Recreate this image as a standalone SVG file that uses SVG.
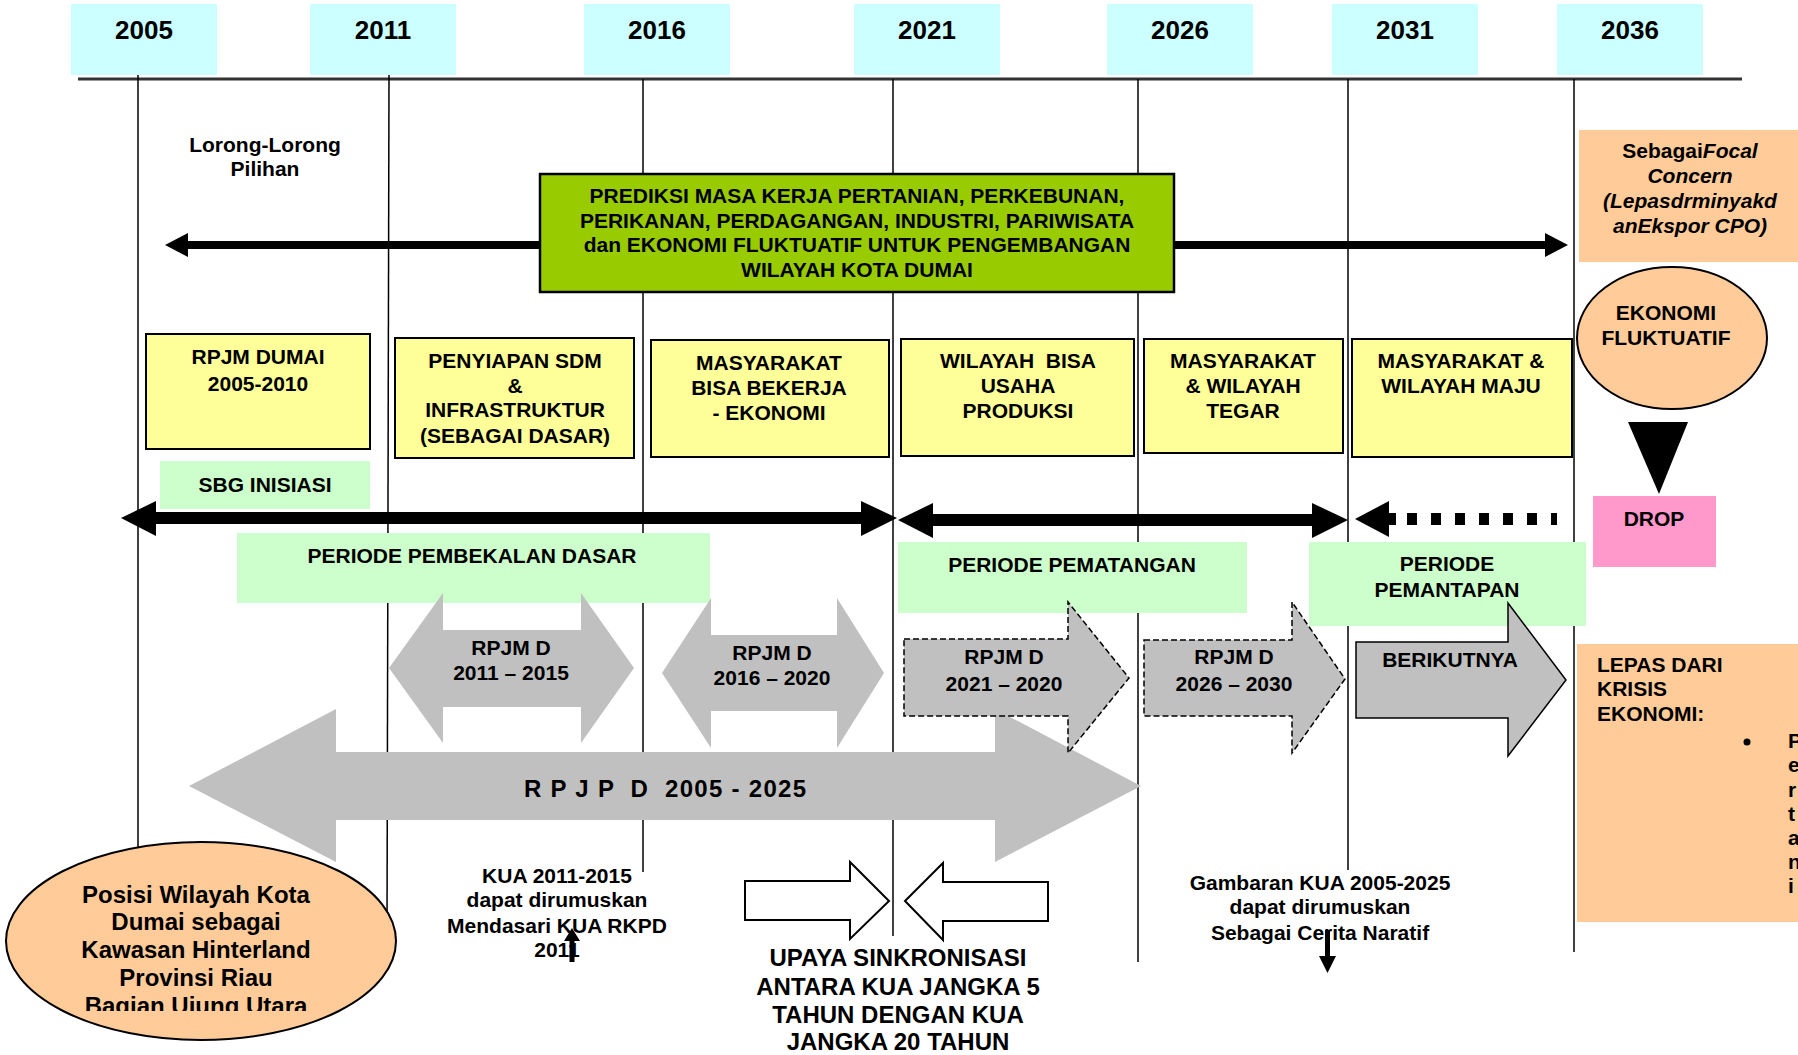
<svg xmlns="http://www.w3.org/2000/svg" width="1798" height="1055" viewBox="0 0 1798 1055">
<style>
text{font-family:"Liberation Sans",Arial,sans-serif;font-weight:bold;fill:#000;text-anchor:middle;font-size:21px}
.yr{font-size:26px}
.big{font-size:24px}
.hdr{fill:#CCFFFF}
.vl{stroke:#000;stroke-width:1.5;fill:none}
.yel{fill:#FFFF99;stroke:#000;stroke-width:2}
.lg{fill:#CCFFCC}
.org{fill:#FFCC99}
.gray{fill:#C0C0C0}
.dash{fill:#C0C0C0;stroke:#000;stroke-width:1.5;stroke-dasharray:6 3}
.blk{fill:#000}
.wa{fill:#fff;stroke:#000;stroke-width:2}
.it{font-style:italic}
.st{text-anchor:start}
</style>
<defs>
<clipPath id="clipPosisi"><rect x="0" y="840" width="420" height="171"/></clipPath>
</defs>
<rect width="1798" height="1055" fill="#fff"/>

<g id="headers">
<rect class="hdr" x="71" y="4" width="146" height="71"/>
<rect class="hdr" x="310" y="4" width="146" height="71"/>
<rect class="hdr" x="584" y="4" width="146" height="71"/>
<rect class="hdr" x="854" y="4" width="146" height="71"/>
<rect class="hdr" x="1107" y="4" width="146" height="71"/>
<rect class="hdr" x="1332" y="4" width="146" height="71"/>
<rect class="hdr" x="1557" y="4" width="146" height="71"/>
<text class="yr" x="144" y="39">2005</text>
<text class="yr" x="383" y="39">2011</text>
<text class="yr" x="657" y="39">2016</text>
<text class="yr" x="927" y="39">2021</text>
<text class="yr" x="1180" y="39">2026</text>
<text class="yr" x="1405" y="39">2031</text>
<text class="yr" x="1630" y="39">2036</text>
</g>

<g id="timeline">
<line x1="78" y1="79" x2="1742" y2="79" stroke="#333" stroke-width="3"/>
<line class="vl" x1="138" y1="75" x2="138" y2="850"/>
<line class="vl" x1="389" y1="75" x2="387" y2="930"/>
<line class="vl" x1="643" y1="79" x2="643" y2="872"/>
<line class="vl" x1="893" y1="79" x2="893" y2="936"/>
<line class="vl" x1="1138" y1="79" x2="1138" y2="962"/>
<line class="vl" x1="1348" y1="79" x2="1348" y2="870"/>
<line class="vl" x1="1574" y1="79" x2="1574" y2="952"/>
</g>

<g id="lorong">
<text x="265" y="152">Lorong-Lorong</text>
<text x="265" y="176">Pilihan</text>
</g>

<g id="connectors">
<polygon class="blk" points="165,245 188,233 188,241 541,241 541,249 188,249 188,257"/>
<polygon class="blk" points="1173,241 1545,241 1545,233 1568,245 1545,257 1545,249 1173,249"/>
<polygon class="blk" points="1628,422 1688,422 1659,494"/>
</g>

<g id="prediksi">
<rect x="540" y="174" width="634" height="118" fill="#99CC00" stroke="#000" stroke-width="2.5"/>
<text x="857" y="203">PREDIKSI MASA KERJA PERTANIAN, PERKEBUNAN,</text>
<text x="857" y="228">PERIKANAN, PERDAGANGAN, INDUSTRI, PARIWISATA</text>
<text x="857" y="252">dan EKONOMI FLUKTUATIF UNTUK PENGEMBANGAN</text>
<text x="857" y="277">WILAYAH KOTA DUMAI</text>
</g>

<g id="focal">
<rect class="org" x="1579" y="130" width="219" height="132"/>
<text x="1690" y="158">Sebagai<tspan class="it">Focal</tspan></text>
<text class="it" x="1690" y="183">Concern</text>
<text class="it" x="1690" y="208">(Lepasdrminyakd</text>
<text class="it" x="1690" y="233">anEkspor CPO)</text>
</g>

<g id="fluktuatif">
<ellipse class="org" cx="1672" cy="338" rx="95" ry="71" stroke="#000" stroke-width="2"/>
<text x="1666" y="320">EKONOMI</text>
<text x="1666" y="345">FLUKTUATIF</text>
</g>

<g id="drop">
<rect x="1593" y="496" width="123" height="71" fill="#FF99CC"/>
<text x="1654" y="526">DROP</text>
</g>

<g id="rpjm-dumai">
<rect class="yel" x="146" y="334" width="224" height="115"/>
<text x="258" y="364">RPJM DUMAI</text>
<text x="258" y="391">2005-2010</text>
</g>
<g id="penyiapan">
<rect class="yel" x="395" y="338" width="239" height="120"/>
<text x="515" y="368">PENYIAPAN SDM</text>
<text x="515" y="393">&amp;</text>
<text x="515" y="417">INFRASTRUKTUR</text>
<text x="515" y="443">(SEBAGAI DASAR)</text>
</g>
<g id="bekerja">
<rect class="yel" x="651" y="340" width="238" height="117"/>
<text x="769" y="370">MASYARAKAT</text>
<text x="769" y="395">BISA BEKERJA</text>
<text x="769" y="420">- EKONOMI</text>
</g>
<g id="produksi">
<rect class="yel" x="901" y="339" width="233" height="117"/>
<text x="1018" y="368" style="white-space:pre">WILAYAH  BISA</text>
<text x="1018" y="393">USAHA</text>
<text x="1018" y="418">PRODUKSI</text>
</g>
<g id="tegar">
<rect class="yel" x="1144" y="339" width="199" height="114"/>
<text x="1243" y="368">MASYARAKAT</text>
<text x="1243" y="393">&amp; WILAYAH</text>
<text x="1243" y="418">TEGAR</text>
</g>
<g id="maju">
<rect class="yel" x="1352" y="339" width="220" height="118"/>
<text x="1461" y="368">MASYARAKAT &amp;</text>
<text x="1461" y="393">WILAYAH MAJU</text>
</g>

<g id="inisiasi">
<rect class="lg" x="160" y="461" width="210" height="48"/>
<text x="265" y="492">SBG INISIASI</text>
</g>

<g id="period-arrows">
<polygon class="blk" points="121,518 156,501 156,512 861,512 861,501 897,518 861,536 861,524 156,524 156,536"/>
<polygon class="blk" points="898,520 933,503 933,514 1312,514 1312,503 1348,520 1312,538 1312,526 933,526 933,538"/>
<polygon class="blk" points="1355,519 1389,501 1389,513 1396,513 1396,525 1389,525 1389,537"/>
<line x1="1407" y1="519" x2="1557" y2="519" stroke="#000" stroke-width="12" stroke-dasharray="10 14"/>
</g>

<g id="pembekalan">
<rect class="lg" x="237" y="533" width="473" height="70"/>
<text x="472" y="563">PERIODE PEMBEKALAN DASAR</text>
</g>
<g id="pematangan">
<rect class="lg" x="898" y="542" width="349" height="71"/>
<text x="1072" y="572">PERIODE PEMATANGAN</text>
</g>
<g id="pemantapan">
<rect class="lg" x="1309" y="542" width="277" height="84"/>
<text x="1447" y="571">PERIODE</text>
<text x="1447" y="597">PEMANTAPAN</text>
</g>

<g id="rpjm-2011">
<polygon class="gray" points="389,668 443,593 443,630 581,630 581,593 634,668 581,743 581,707 443,707 443,743"/>
<text x="511" y="655">RPJM D</text>
<text x="511" y="680">2011 – 2015</text>
</g>
<g id="rpjm-2016">
<polygon class="gray" points="662,673 711,598 711,635 837,635 837,598 884,673 837,748 837,711 711,711 711,748"/>
<text x="772" y="660">RPJM D</text>
<text x="772" y="685">2016 – 2020</text>
</g>
<g id="rpjpd">
<polygon class="gray" points="189,786 336,709 336,752 995,752 995,709 1141,786 995,862 995,820 336,820 336,862"/>
<text class="big" x="665" y="797" style="white-space:pre" textLength="282" lengthAdjust="spacing">R P J P  D  2005 - 2025</text>
</g>
<g id="rpjm-2021">
<polygon class="dash" points="904,639 1068,639 1068,602 1129,678 1068,753 1068,716 904,716"/>
<text x="1004" y="664">RPJM D</text>
<text x="1004" y="691">2021 – 2020</text>
</g>
<g id="rpjm-2026">
<polygon class="dash" points="1144,640 1292,640 1292,602 1345,679 1292,753 1292,716 1144,716"/>
<text x="1234" y="664">RPJM D</text>
<text x="1234" y="691">2026 – 2030</text>
</g>
<g id="berikutnya">
<polygon class="gray" points="1356,642 1508,642 1508,603 1566,680 1508,756 1508,718 1356,718" stroke="#000" stroke-width="1.5"/>
<text x="1450" y="667">BERIKUTNYA</text>
</g>

<g id="lepas">
<rect class="org" x="1577" y="644" width="221" height="278"/>
<text class="st" x="1597" y="672">LEPAS DARI</text>
<text class="st" x="1597" y="696">KRISIS</text>
<text class="st" x="1597" y="721">EKONOMI:</text>
<circle cx="1747" cy="742" r="3.5" fill="#000"/>
<text class="st" x="1788" y="748">P</text>
<text class="st" x="1788" y="772">e</text>
<text class="st" x="1788" y="797">r</text>
<text class="st" x="1788" y="821">t</text>
<text class="st" x="1788" y="845">a</text>
<text class="st" x="1788" y="869">n</text>
<text class="st" x="1788" y="893">i</text>
</g>

<g id="kua">
<text x="557" y="883">KUA 2011-2015</text>
<text x="557" y="907">dapat dirumuskan</text>
<text x="557" y="933">Mendasari KUA RKPD</text>
<text x="557" y="957">2011</text>
<polygon class="blk" points="572,928 580,941 574.5,941 574.5,962 569.5,962 569.5,941 564,941"/>
</g>

<g id="gambaran">
<text x="1320" y="890">Gambaran KUA 2005-2025</text>
<text x="1320" y="914">dapat dirumuskan</text>
<text x="1320" y="940">Sebagai Cerita Naratif</text>
<polygon class="blk" points="1325,930 1330,930 1330,956 1336,956 1327.5,973 1319,956 1325,956"/>
</g>

<g id="upaya">
<polygon class="wa" points="745,881 850,881 850,862 889,901 850,939 850,920 745,920"/>
<polygon class="wa" points="905,901 943,863 943,882 1048,882 1048,921 943,921 943,940"/>
<text class="big" x="898" y="966">UPAYA SINKRONISASI</text>
<text class="big" x="898" y="995">ANTARA KUA JANGKA 5</text>
<text class="big" x="898" y="1023">TAHUN DENGAN KUA</text>
<text class="big" x="898" y="1050">JANGKA 20 TAHUN</text>
</g>

<g id="posisi">
<ellipse class="org" cx="201" cy="941" rx="195" ry="99" stroke="#000" stroke-width="2"/>
<g clip-path="url(#clipPosisi)">
<text class="big" x="196" y="903">Posisi Wilayah Kota</text>
<text class="big" x="196" y="930">Dumai sebagai</text>
<text class="big" x="196" y="958">Kawasan Hinterland</text>
<text class="big" x="196" y="986">Provinsi Riau</text>
<text class="big" x="196" y="1014">Bagian Ujung Utara</text>
</g>
</g>
</svg>
